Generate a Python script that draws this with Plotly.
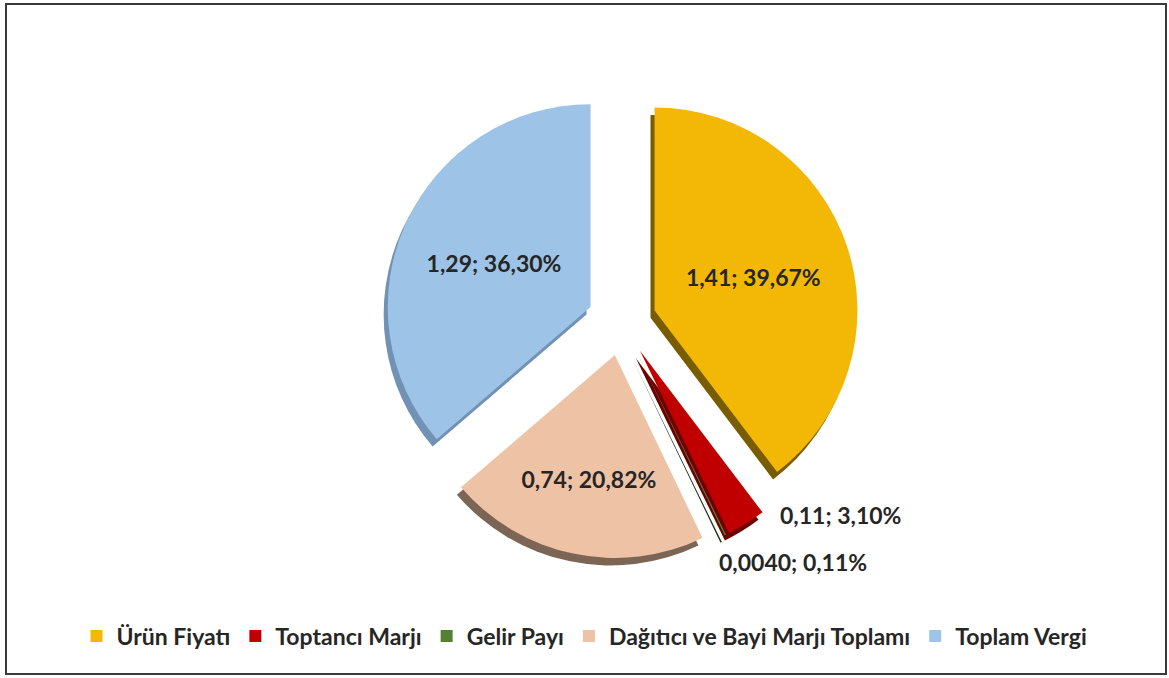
import plotly.graph_objects as go

categories = ["Ürün Fiyatı", "Toptancı Marjı", "Gelir Payı", "Dağıtıcı ve Bayi Marjı Toplamı", "Toplam Vergi"]
values = [1.41, 0.11, 0.0040, 0.74, 1.29]
value_labels = ["1,41", "0,11", "0,0040", "0,74", "1,29"]
colors = ["#F3B705", "#C00000", "#548235", "#EEC3A5", "#9DC3E6"]
side_colors = ["#7A5C00", "#6E0000", "#1F3314", "#7D6556", "#7191B5"]

total = sum(values)
texts = [f"{vl}; {v / total * 100:.2f}%".replace(".", ",") for vl, v in zip(value_labels, values)]

dx, dy = 0.0035, 0.011
dom_x = [0.322, 0.742]
dom_y = [0.176, 0.876]
pulls = [0.17, 0.17, 0.17, 0.17, 0.17]

fig = go.Figure()
# depth (side) layer
fig.add_trace(go.Pie(
    labels=categories, values=values, sort=False, direction="clockwise", rotation=0,
    pull=pulls, marker=dict(colors=side_colors, line=dict(width=0)),
    textinfo="none", showlegend=False, hoverinfo="skip",
    domain=dict(x=[dom_x[0] - dx, dom_x[1] - dx], y=[dom_y[0] - dy, dom_y[1] - dy]),
))
# top layer
fig.add_trace(go.Pie(
    labels=categories,
    values=values,
    text=texts,
    textinfo="text",
    textposition=["inside", "none", "none", "inside", "inside"],
    insidetextorientation="horizontal",
    sort=False,
    direction="clockwise",
    rotation=0,
    pull=pulls,
    marker=dict(colors=colors, line=dict(width=0)),
    textfont=dict(family="Lato", size=23, color="#262626", weight="bold"),
    domain=dict(x=dom_x, y=dom_y),
    showlegend=True,
    hoverinfo="label+value+percent",
))

annotations = [
    dict(text=texts[1], x=840 / 1169, y=1 - 515 / 678),
    dict(text=texts[2], x=793 / 1169, y=1 - 562 / 678),
]
for a in annotations:
    a.update(xref="paper", yref="paper", showarrow=False, xanchor="center", yanchor="middle",
             font=dict(family="Lato", size=23, color="#262626", weight="bold"))

fig.update_layout(
    width=1169, height=678,
    margin=dict(l=0, r=0, t=0, b=0),
    paper_bgcolor="white",
    plot_bgcolor="white",
    font=dict(family="Lato", color="#262626"),
    legend=dict(
        orientation="h", x=0.5, xanchor="center", y=1 - 636 / 678, yanchor="middle",
        font=dict(family="Lato", size=23, color="#262626", weight="bold"),
        itemsizing="constant",
    ),
    annotations=annotations,
    shapes=[dict(
        type="rect", xref="paper", yref="paper",
        x0=6 / 1169, x1=1166 / 1169, y0=1 - 674 / 678, y1=1 - 4 / 678,
        line=dict(color="#3A3A3A", width=2), fillcolor="rgba(0,0,0,0)",
    )],
)

fig.write_html("out.html", config={"displayModeBar": False},
               post_script="document.body.style.margin='0';")
